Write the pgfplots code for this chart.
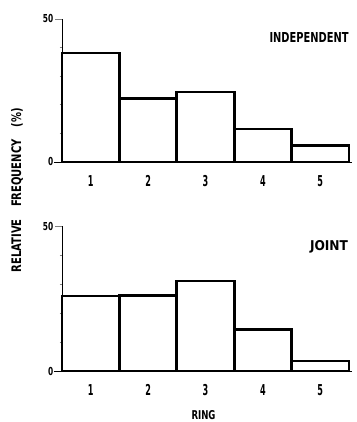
\documentclass[border=0pt]{standalone}
\usepackage{pgfplots}
\pgfplotsset{compat=1.18}
\usepackage{fontspec}
\setmainfont{DejaVu Sans Condensed}
\newcommand{\tk}[1]{\scalebox{0.6}[1]{\fontsize{15}{15}\selectfont\bfseries #1}}
\newcommand{\tkl}[1]{\scalebox{0.75}[1]{\fontsize{11}{11}\selectfont\bfseries #1}}
\pgfplotsset{
  hist/.style={
    scale only axis, width=287pt,
    xmin=0.5, xmax=5.5, ymin=0, ymax=50,
    axis lines=left, clip=false,
    x axis line style={-, line width=0.9pt, shorten <=-8pt, shorten >=-3pt},
    y axis line style={-, line width=0.8pt},
    ybar, bar width=1,
    xtick={1,2,3,4,5},
    xticklabels={\tk{1},\tk{2},\tk{3},\tk{4},\tk{5}},
    xtick style={draw=none},
    xticklabel style={anchor=center, yshift=-12pt},
    ytick={0,50}, yticklabels={\tkl{0},\tkl{50}},
    minor ytick={10,20,30,40},
    tick align=outside,
    major tick length=7pt, minor tick length=2.5pt,
    ytick style={line width=0.8pt},
    yticklabel style={inner sep=1.5pt},
  },
  barsty/.style={draw=black, fill=white, line width=2.7pt, line join=miter}
}
\begin{document}
\begin{tikzpicture}[x=1pt,y=1pt]
\useasboundingbox (0,0) rectangle (356,422);
\begin{axis}[hist, height=143pt, at={(62pt,260pt)}, anchor=south west]
\addplot[barsty] coordinates {(1,38.1) (2,22.3) (3,24.5) (4,11.5) (5,5.7)};
\end{axis}
\begin{axis}[hist, height=145pt, at={(62pt,51pt)}, anchor=south west]
\addplot[barsty] coordinates {(1,25.9) (2,26.0) (3,31.0) (4,14.4) (5,3.5)};
\end{axis}
\node at (309,384) {\resizebox{79pt}{10pt}{\bfseries INDEPENDENT}};
\node at (329,175) {\resizebox{38pt}{10pt}{\bfseries JOINT}};
\node at (203.5,7) {\resizebox{24pt}{9pt}{\bfseries RING}};
\node[rotate=90] at (17,232) {\resizebox{164pt}{10pt}{\bfseries RELATIVE\hspace{1.1em}FREQUENCY\hspace{1.1em}(\%)}};
\end{tikzpicture}
\end{document}
